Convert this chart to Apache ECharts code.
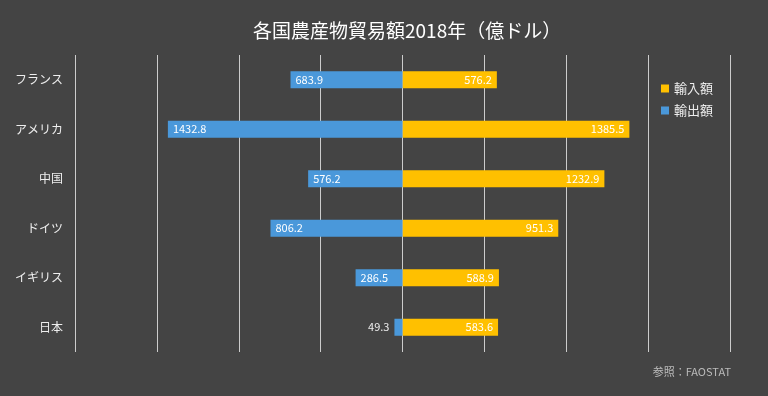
<!DOCTYPE html>
<html><head><meta charset="utf-8">
<script src="https://cdn.jsdelivr.net/npm/echarts@6/dist/echarts.min.js"></script>
<style>html,body{margin:0;padding:0;background:#444444;}#c{width:768px;height:396px;}</style>
</head><body><div id="c"></div>
<script>
const categories = ['フランス','アメリカ','中国','ドイツ','イギリス','日本'];
const importValues = [576.2, 1385.5, 1232.9, 951.3, 588.9, 583.6];
const exportValues = [683.9, 1432.8, 576.2, 806.2, 286.5, 49.3];

const chart = echarts.init(document.getElementById('c'));
const fontFam = '"Noto Sans CJK JP", "Noto Sans", sans-serif';
chart.setOption({
  backgroundColor: '#444444',
  animation: false,
  title: [{
    text: '各国農産物貿易額2018年（億ドル）',
    left: 248, top: 16,
    textStyle: { color: '#ffffff', fontSize: 19, fontWeight: 'normal', fontFamily: fontFam }
  }, {
    text: '参照：FAOSTAT',
    right: 32, top: 361,
    textStyle: { color: '#bbbbbb', fontSize: 11, fontWeight: 'normal', fontFamily: fontFam }
  }],
  legend: {
    orient: 'vertical', left: 656, top: 77,
    itemWidth: 8, itemHeight: 8, itemGap: 9,
    icon: 'rect',
    textStyle: { color: '#eeeeee', fontSize: 13, fontFamily: fontFam },
    data: ['輸入額','輸出額']
  },
  grid: { left: 75, right: 38, top: 55, bottom: 44, containLabel: false },
  xAxis: {
    type: 'value', min: -2000, max: 2000, interval: 500,
    axisLabel: { show: false }, axisLine: { show: false }, axisTick: { show: false },
    splitLine: { show: true, lineStyle: { color: '#cccccc', width: 1 } }
  },
  yAxis: {
    type: 'category', data: categories, inverse: true,
    axisLine: { show: false }, axisTick: { show: false },
    axisLabel: { color: '#eeeeee', fontSize: 12, margin: 12, fontFamily: fontFam }
  },
  series: [{
    name: '輸入額', type: 'bar', stack: 'a', barWidth: 17,
    itemStyle: { color: '#FFC000' },
    label: { show: true, position: 'insideRight', color: '#ffffff', fontSize: 11, fontFamily: fontFam },
    data: importValues
  }, {
    name: '輸出額', type: 'bar', stack: 'a', barWidth: 17,
    itemStyle: { color: '#4A98DA' },
    label: { show: true, position: 'insideLeft', color: '#ffffff', fontSize: 11, fontFamily: fontFam,
      formatter: p => Math.abs(p.value).toFixed(1) },
    data: exportValues.map((v, i) => (
      v < 100 ? { value: -v, label: { position: 'left', color: '#eeeeee' } } : -v
    ))
  }]
});
</script></body></html>
